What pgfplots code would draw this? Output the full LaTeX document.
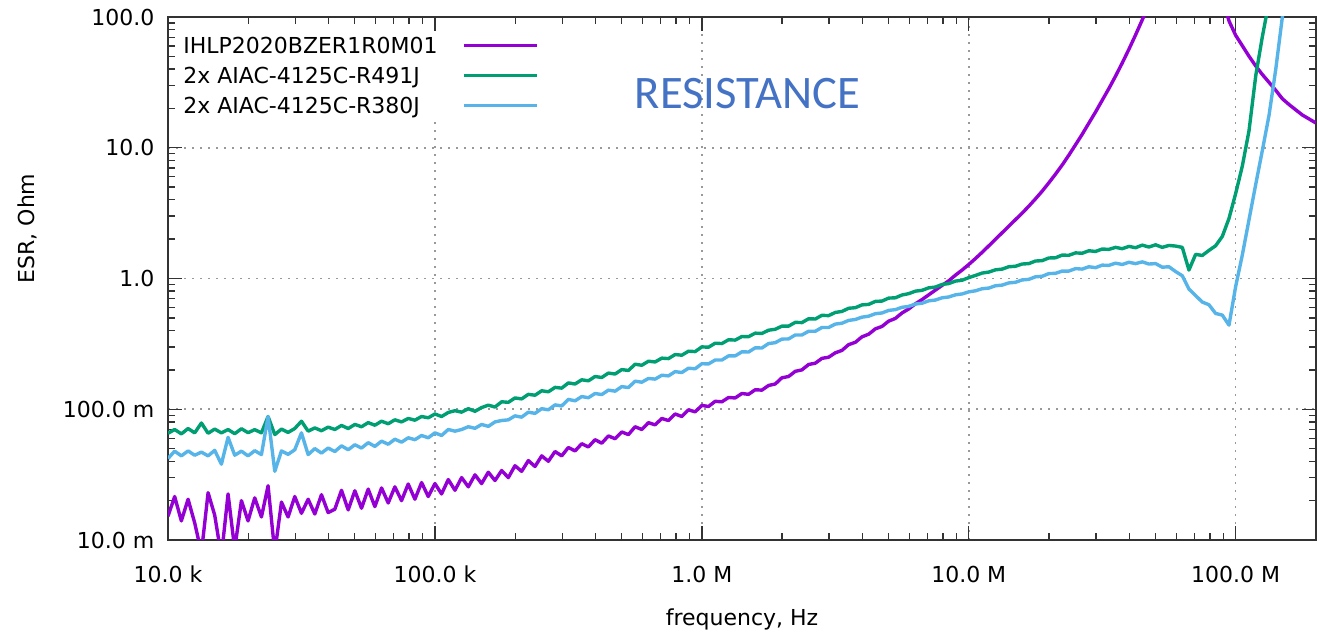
\documentclass[border=0pt]{standalone}
\usepackage{pgfplots}
\pgfplotsset{compat=1.18}
\usepackage{pgfplotstable}
\usepackage{fontspec}
\setmainfont{DejaVu Sans}
\newfontfamily\calib{Carlito}
\definecolor{cpurple}{HTML}{9400D3}
\definecolor{cgreen}{HTML}{009E73}
\definecolor{cblue}{HTML}{56B4E9}
\definecolor{ctitle}{HTML}{4472C4}
\pgfplotstableread{
f p g b
1.000e4 0.0152 0.0655 0.0420
1.059e4 0.0215 0.0700 0.0478
1.122e4 0.0140 0.0648 0.0440
1.189e4 0.0205 0.0712 0.0480
1.259e4 0.0135 0.0660 0.0445
1.334e4 0.0080 0.0785 0.0470
1.413e4 0.0230 0.0655 0.0440
1.496e4 0.0155 0.0705 0.0485
1.585e4 0.0075 0.0660 0.0380
1.679e4 0.0225 0.0700 0.0610
1.778e4 0.0085 0.0650 0.0445
1.884e4 0.0200 0.0710 0.0478
1.995e4 0.0140 0.0662 0.0440
2.113e4 0.0210 0.0698 0.0482
2.239e4 0.0150 0.0660 0.0450
2.371e4 0.0260 0.0880 0.0880
2.512e4 0.0080 0.0640 0.0335
2.661e4 0.0195 0.0705 0.0480
2.818e4 0.0150 0.0665 0.0452
2.985e4 0.0215 0.0712 0.0490
3.162e4 0.0160 0.0810 0.0660
3.350e4 0.0205 0.0680 0.0450
3.548e4 0.0158 0.0720 0.0500
3.758e4 0.0222 0.0685 0.0462
3.981e4 0.0162 0.0730 0.0505
4.217e4 0.0172 0.0700 0.0475
4.467e4 0.0240 0.0752 0.0525
4.732e4 0.0170 0.0712 0.0490
5.012e4 0.0238 0.0765 0.0535
5.309e4 0.0175 0.0735 0.0505
5.623e4 0.0245 0.0790 0.0555
5.957e4 0.0180 0.0755 0.0520
6.310e4 0.0250 0.0810 0.0570
6.683e4 0.0192 0.0775 0.0540
7.079e4 0.0255 0.0830 0.0590
7.499e4 0.0200 0.0800 0.0560
7.943e4 0.0268 0.0850 0.0605
8.414e4 0.0205 0.0825 0.0585
8.913e4 0.0275 0.0880 0.0630
9.441e4 0.0215 0.0860 0.0605
1.000e5 0.0270 0.0920 0.0660
1.059e5 0.0225 0.0880 0.0630
1.122e5 0.0290 0.0945 0.0700
1.189e5 0.0240 0.0975 0.0680
1.259e5 0.0300 0.0950 0.0700
1.334e5 0.0255 0.1010 0.0735
1.413e5 0.0315 0.0965 0.0715
1.496e5 0.0270 0.1030 0.0765
1.585e5 0.0330 0.1075 0.0740
1.679e5 0.0285 0.1040 0.0800
1.778e5 0.0340 0.1140 0.0820
1.884e5 0.0300 0.1130 0.0830
1.995e5 0.0370 0.1220 0.0890
2.113e5 0.0335 0.1200 0.0870
2.239e5 0.0405 0.1300 0.0950
2.371e5 0.0365 0.1280 0.0930
2.512e5 0.0440 0.1385 0.1010
2.661e5 0.0400 0.1360 0.0990
2.818e5 0.0475 0.1470 0.1080
2.985e5 0.0440 0.1450 0.1060
3.162e5 0.0510 0.1590 0.1190
3.350e5 0.0480 0.1560 0.1160
3.548e5 0.0545 0.1680 0.1250
3.758e5 0.0515 0.1650 0.1225
3.981e5 0.0585 0.1780 0.1320
4.217e5 0.0550 0.1750 0.1295
4.467e5 0.0625 0.1890 0.1400
4.732e5 0.0595 0.1860 0.1375
5.012e5 0.0670 0.2010 0.1490
5.309e5 0.0640 0.1980 0.1465
5.623e5 0.0735 0.2210 0.1640
5.957e5 0.0700 0.2170 0.1610
6.310e5 0.0790 0.2330 0.1720
6.683e5 0.0760 0.2300 0.1700
7.079e5 0.0850 0.2460 0.1820
7.499e5 0.0820 0.2440 0.1800
7.943e5 0.0920 0.2620 0.1940
8.414e5 0.0880 0.2590 0.1910
8.913e5 0.0990 0.2780 0.2060
9.441e5 0.0955 0.2760 0.2040
1.000e6 0.1070 0.3000 0.2230
1.059e6 0.1050 0.2980 0.2220
1.122e6 0.1150 0.3200 0.2380
1.189e6 0.1140 0.3180 0.2380
1.259e6 0.1230 0.3400 0.2560
1.334e6 0.1220 0.3380 0.2560
1.413e6 0.1320 0.3600 0.2750
1.496e6 0.1300 0.3590 0.2740
1.585e6 0.1410 0.3820 0.2950
1.679e6 0.1400 0.3800 0.2940
1.778e6 0.1520 0.4020 0.3180
1.884e6 0.1560 0.4090 0.3230
1.995e6 0.1740 0.4320 0.3440
2.113e6 0.1780 0.4320 0.3450
2.239e6 0.1950 0.4620 0.3700
2.371e6 0.2000 0.4600 0.3700
2.512e6 0.2200 0.4920 0.3950
2.661e6 0.2250 0.4900 0.3950
2.818e6 0.2450 0.5230 0.4220
2.985e6 0.2500 0.5200 0.4220
3.162e6 0.2700 0.5500 0.4480
3.350e6 0.2820 0.5600 0.4550
3.548e6 0.3120 0.5920 0.4780
3.758e6 0.3250 0.5980 0.4860
3.981e6 0.3580 0.6280 0.5060
4.217e6 0.3750 0.6340 0.5150
4.467e6 0.4120 0.6680 0.5380
4.732e6 0.4300 0.6720 0.5450
5.012e6 0.4720 0.7080 0.5700
5.309e6 0.4950 0.7120 0.5780
5.623e6 0.5450 0.7480 0.6020
5.957e6 0.5850 0.7660 0.6120
6.310e6 0.6400 0.8000 0.6380
6.683e6 0.6900 0.8120 0.6470
7.079e6 0.7500 0.8480 0.6750
7.499e6 0.8150 0.8600 0.6840
7.943e6 0.8850 0.9000 0.7120
8.414e6 0.9600 0.9150 0.7220
8.913e6 1.0600 0.9550 0.7500
9.441e6 1.1600 0.9700 0.7620
1.000e7 1.2800 1.0150 0.7900
1.059e7 1.420 1.055 0.8050
1.122e7 1.585 1.100 0.8350
1.189e7 1.778 1.120 0.8450
1.259e7 1.995 1.165 0.8800
1.334e7 2.239 1.180 0.8900
1.413e7 2.512 1.230 0.9250
1.496e7 2.818 1.240 0.9350
1.585e7 3.162 1.290 0.9750
1.679e7 3.573 1.300 0.9850
1.778e7 4.064 1.360 1.0300
1.884e7 4.656 1.370 1.0400
1.995e7 5.383 1.435 1.0900
2.113e7 6.281 1.440 1.0950
2.239e7 7.379 1.510 1.1400
2.371e7 8.770 1.505 1.1400
2.512e7 10.54 1.570 1.1900
2.661e7 12.68 1.560 1.1800
2.818e7 15.42 1.630 1.2300
2.985e7 18.75 1.610 1.2100
3.162e7 23.07 1.680 1.2650
3.350e7 28.38 1.670 1.2600
3.548e7 35.32 1.730 1.3100
3.758e7 44.46 1.690 1.2800
3.981e7 56.62 1.760 1.3300
4.217e7 72.95 1.720 1.3000
4.467e7 95.06 1.800 1.3400
4.732e7 125.9 1.740 1.2900
5.012e7 199.5 1.810 1.3000
5.309e7 316.2 1.730 1.2200
5.623e7 501.2 1.790 1.2300
5.957e7 708 1.770 1.1300
6.310e7 1000 1.730 1.0500
6.683e7 1120 1.160 0.8300
7.079e7 1000 1.530 0.7400
7.499e7 631 1.500 0.6600
7.943e7 398 1.640 0.6300
8.414e7 224 1.780 0.5400
8.913e7 141 2.100 0.5250
9.441e7 93.3 2.880 0.4400
1.000e8 72.4 4.470 0.8700
1.059e8 60.3 7.24 1.514
1.122e8 50.1 13.5 2.818
1.189e8 42.2 35.5 5.25
1.259e8 36.3 70.8 9.55
1.334e8 31.6 132 17.8
1.413e8 27.5 251 39.8
1.496e8 23.7 501 100
1.585e8 21.4 1000 200
1.679e8 19.5 2000 400
1.778e8 17.8 4000 800
1.884e8 16.6 8000 1600
1.995e8 15.5 16000 3200
}\datatable
\begin{document}
\fontsize{11}{13.2}\selectfont
\begin{tikzpicture}
\begin{axis}[
  scale only axis,
  width=574pt, height=261.5pt,
  xmode=log, ymode=log,
  xmin=1e4, xmax=2e8, ymin=1e-2, ymax=1e2,
  xtick={1e4,1e5,1e6,1e7,1e8},
  xticklabels={10.0 k,100.0 k,1.0 M,10.0 M,100.0 M},
  ytick={1e-2,1e-1,1,10,100},
  yticklabels={10.0 m,100.0 m,1.0\hspace{0.77em},10.0\hspace{0.77em},100.0\hspace{0.77em}},
  minor xtick={2e4,3e4,4e4,5e4,6e4,7e4,8e4,9e4,2e5,3e5,4e5,5e5,6e5,7e5,8e5,9e5,2e6,3e6,4e6,5e6,6e6,7e6,8e6,9e6,2e7,3e7,4e7,5e7,6e7,7e7,8e7,9e7},
  minor ytick={2e-2,3e-2,4e-2,5e-2,6e-2,7e-2,8e-2,9e-2,0.2,0.3,0.4,0.5,0.6,0.7,0.8,0.9,2,3,4,5,6,7,8,9,20,30,40,50,60,70,80,90},
  tick align=inside,
  major tick length=7pt, minor tick length=3.5pt,
  xmajorgrids, ymajorgrids,
  major grid style={dash pattern=on 1pt off 3pt, black!40, line width=0.8pt},
  axis line style={black!80, line width=0.9pt},
  tick style={black!80, line width=0.7pt},
  xticklabel style={yshift=-9pt},
  yticklabel style={xshift=-3pt},
  xlabel={frequency, Hz},
  ylabel={ESR, Ohm},
  xlabel style={at={(axis description cs:0.5,-0.151)}, anchor=center},
  ylabel style={at={(axis description cs:-0.1228,0.5956)}, anchor=center},
  legend cell align=left,
  legend plot pos=right,
  legend style={at={(axis description cs:0,1)}, anchor=north west,
    xshift=5.5pt, yshift=-8pt, draw=none, fill=white, inner sep=2pt,
    row sep=5pt, column sep=12.5pt,
    nodes={inner sep=0pt, text height=8pt, text depth=2pt}},
  legend image code/.code={\draw[#1, line width=1.7pt] (0pt,1pt) -- (36.5pt,1pt);},
  every axis plot/.append style={line width=1.7pt, line join=round},
]
\addplot[color=cpurple] table[x=f, y=p] {\datatable};
\addlegendentry{IHLP2020BZER1R0M01}
\addplot[color=cgreen] table[x=f, y=g] {\datatable};
\addlegendentry{2x AIAC-4125C-R491J}
\addplot[color=cblue] table[x=f, y=b] {\datatable};
\addlegendentry{2x AIAC-4125C-R380J}
\node[text=ctitle, font=\calib\fontsize{23.3}{28}\selectfont, anchor=center, inner sep=0pt] at (rel axis cs:0.5048,0.8528) {RESISTANCE};
\end{axis}
\pgfresetboundingbox
\path ([xshift=-84pt,yshift=-50.5pt]current axis.south west) rectangle ([xshift=1.5pt,yshift=8.5pt]current axis.north east);
\end{tikzpicture}
\end{document}
